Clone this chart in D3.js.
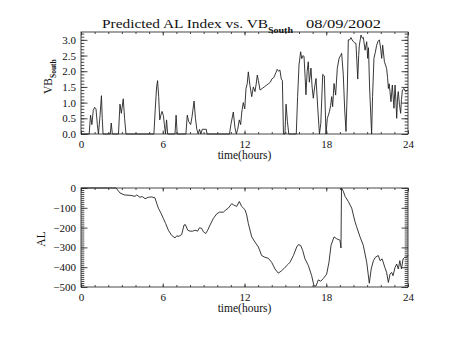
<!DOCTYPE html>
<html>
<head>
<meta charset="utf-8">
<script src="https://cdn.jsdelivr.net/npm/d3@7"></script>
<style>
  body { margin: 0; background: #fff; }
  svg text { font-family: "Liberation Serif", "Times New Roman", serif; fill: #111; }
</style>
</head>
<body>
<svg id="chart" width="453" height="340"></svg>
<script>
// Hour ticks shared by both panels
const hourTicks = [0, 6, 12, 18, 24];
const vbTicks = [0, 0.5, 1, 1.5, 2, 2.5, 3];
const alTicks = [0, -100, -200, -300, -400, -500];

// Southward IMF component times solar-wind speed: [hour, value]
const vbSouth = [
  [0, 0], [0.6, 0], [0.7, 0.6], [0.8, 0.3], [0.9, 0.75], [1.0, 0.85], [1.1, 0.8], [1.2, 0.3], [1.28, 0],
  [1.4, 0.6], [1.5, 1.22], [1.56, 0.5], [1.62, 0],
  [2.15, 0], [2.22, 0.35], [2.3, 0],
  [2.75, 0], [2.86, 0.95], [2.96, 0.66], [3.1, 1.12], [3.2, 0.5], [3.3, 0],
  [5.35, 0], [5.45, 0.8], [5.55, 1.5], [5.62, 1.7], [5.7, 1.2], [5.78, 0.45], [5.86, 0.6], [5.95, 0.72],
  [6.05, 0.58], [6.12, 0.3], [6.2, 0], [6.28, 0.45], [6.36, 0],
  [6.9, 0], [6.98, 0.6], [7.06, 0],
  [7.7, 0], [7.8, 0.6], [7.9, 0.4], [8.05, 0.3], [8.15, 0.55], [8.3, 1.05], [8.4, 0.5], [8.5, 0.15],
  [8.6, 0], [8.7, 0.15], [8.8, 0], [8.9, 0.15], [9.2, 0.15], [9.25, 0],
  [10.9, 0], [11.0, 0.3], [11.18, 0.7], [11.3, 0.2], [11.4, 0], [11.5, 0.15], [11.62, 0.45], [11.72, 0.3],
  [11.8, 0.7], [11.91, 1.0], [12.02, 0.8], [12.11, 1.45], [12.2, 1.6], [12.28, 1.98], [12.4, 1.55],
  [12.53, 1.19], [12.65, 1.5], [12.77, 1.35], [12.86, 1.6], [12.94, 1.88], [13.02, 1.7], [13.14, 1.4],
  [13.3, 1.45], [13.45, 1.5], [13.6, 1.55], [13.75, 1.6], [13.9, 1.65], [14.0, 1.75], [14.15, 1.8],
  [14.3, 1.95], [14.4, 2.06], [14.5, 2.0], [14.6, 2.04], [14.7, 1.75], [14.78, 1.7], [14.86, 0],
  [14.97, 0], [15.05, 0.95], [15.15, 0.4], [15.25, 0],
  [15.8, 0], [15.9, 1.2], [16.0, 2.2], [16.12, 2.62], [16.2, 2.4], [16.3, 2.5], [16.37, 2.46], [16.45, 1.8],
  [16.51, 1.25], [16.6, 2.0], [16.68, 2.3], [16.76, 1.65], [16.88, 2.1], [16.96, 1.5], [17.05, 1.14],
  [17.15, 1.5], [17.25, 1.77], [17.38, 0.8], [17.5, 0],
  [17.6, 0.34], [17.74, 1.9], [17.86, 1.85], [17.98, 0],
  [18.08, 0.5], [18.16, 0.6], [18.23, 0.71], [18.32, 0.9], [18.4, 1.19], [18.47, 0.87], [18.57, 1.61],
  [18.69, 1.24], [18.81, 2.09], [18.94, 2.41], [19.05, 2.5], [19.13, 2.57], [19.25, 1.9], [19.35, 0.8], [19.45, 0.08],
  [19.55, 1.5], [19.62, 3.0], [19.72, 3.0], [19.82, 3.07], [19.9, 3.0], [19.99, 2.94], [20.1, 2.9], [20.18, 2.89],
  [20.25, 2.3], [20.31, 1.75], [20.38, 2.5], [20.43, 2.83], [20.55, 3.15], [20.65, 3.05], [20.72, 3.08],
  [20.85, 2.67], [20.97, 2.94], [21.04, 2.41], [21.1, 2.75], [21.18, 1.5], [21.33, 0],
  [21.4, 1.2], [21.5, 2.41], [21.6, 2.6], [21.7, 2.83], [21.8, 2.95], [21.9, 3.0], [22.0, 2.7], [22.07, 2.41],
  [22.14, 2.83], [22.27, 2.3], [22.35, 2.2], [22.43, 2.09], [22.5, 1.8], [22.56, 1.45], [22.62, 1.6],
  [22.68, 1.35], [22.75, 1.03], [22.85, 1.56], [22.97, 0.82], [23.05, 1.56], [23.12, 1.0], [23.17, 0.5],
  [23.24, 1.2], [23.29, 1.35], [23.37, 0.95], [23.46, 0.66], [23.52, 1.1], [23.59, 1.4], [23.71, 1.45],
  [23.83, 1.35], [23.96, 1.4]
];

// Predicted AL index (nT): [hour, value]
const alIndex = [
  [0, 0], [2.57, 0], [2.86, -25], [3.18, -35], [3.6, -37], [3.96, -42], [4.09, -35], [4.33, -47], [4.5, -43],
  [4.7, -54], [4.94, -47], [5.19, -45], [5.43, -50], [5.55, -76], [5.68, -102], [5.87, -127], [6.04, -153],
  [6.21, -179], [6.41, -213], [6.65, -239], [6.9, -252], [7.02, -242], [7.19, -244], [7.39, -235],
  [7.56, -187], [7.66, -185], [7.83, -213], [8.0, -218], [8.2, -218], [8.37, -213], [8.56, -218],
  [8.69, -201], [8.86, -204], [8.98, -221], [9.15, -230], [9.3, -213], [9.47, -187], [9.72, -153],
  [9.96, -131], [10.16, -122], [10.45, -122], [10.64, -110], [10.81, -102], [11.06, -79], [11.18, -85],
  [11.43, -93], [11.62, -68], [11.79, -93], [12.04, -110], [12.16, -136], [12.28, -179], [12.53, -247],
  [12.77, -273], [13.02, -298], [13.26, -341], [13.5, -350], [13.75, -355], [13.99, -375], [14.24, -409],
  [14.48, -430], [14.73, -418], [14.97, -401], [15.22, -384], [15.34, -375], [15.59, -341], [15.83, -298],
  [15.95, -286], [16.12, -290], [16.27, -315], [16.44, -358], [16.69, -392], [16.93, -443], [17.1, -495],
  [17.25, -495], [17.42, -464], [17.59, -471], [17.79, -457], [18.03, -435], [18.2, -375], [18.35, -290],
  [18.57, -247], [18.76, -256], [19.01, -264], [19.08, -303], [19.12, 0], [19.25, -16], [19.38, -42],
  [19.62, -68], [19.87, -102], [20.11, -170], [20.23, -196], [20.48, -247], [20.72, -290], [20.97, -375],
  [21.16, -481], [21.3, -409], [21.46, -367], [21.6, -350], [21.82, -341], [21.95, -367], [22.1, -358],
  [22.3, -401], [22.43, -426], [22.56, -477], [22.68, -435], [22.8, -426], [22.9, -443], [23.05, -401],
  [23.17, -384], [23.29, -409], [23.4, -367], [23.52, -409], [23.64, -358], [23.76, -350], [23.9, -350],
  [24, -340]
];

const svg = d3.select("#chart");
const axisColor = "#333";
const lineColor = "#222";

const x = d3.scaleLinear().domain([0, 24]).range([81, 408]);
const hourMinor = d3.range(0, 24.001, 1);

function drawPanel(y, data, majorTicks, minorTicks, fmt) {
  const [y0, y1] = y.range();
  const g = svg.append("g");

  const styleAxis = sel => {
    sel.select(".domain").remove();
    sel.selectAll(".tick line").attr("stroke", axisColor).attr("stroke-width", 0.9);
    sel.selectAll(".tick text").style("font-size", "11px").attr("fill", "#111");
  };

  // bottom axis with hour labels, ticks pointing inward
  g.append("g").attr("transform", `translate(0,${y0})`)
    .call(d3.axisBottom(x).tickValues(hourTicks).tickSizeInner(-3.5).tickSizeOuter(0).tickPadding(6)
      .tickFormat(d3.format("d")))
    .call(styleAxis);
  g.append("g").attr("transform", `translate(0,${y0})`)
    .call(d3.axisBottom(x).tickValues(hourMinor).tickSizeInner(-2).tickSizeOuter(0).tickFormat(""))
    .call(styleAxis);
  // top axis, ticks only
  g.append("g").attr("transform", `translate(0,${y1})`)
    .call(d3.axisTop(x).tickValues(hourTicks).tickSizeInner(-3.5).tickSizeOuter(0).tickFormat(""))
    .call(styleAxis);
  g.append("g").attr("transform", `translate(0,${y1})`)
    .call(d3.axisTop(x).tickValues(hourMinor).tickSizeInner(-2).tickSizeOuter(0).tickFormat(""))
    .call(styleAxis);

  // left axis with value labels
  g.append("g").attr("transform", `translate(${x.range()[0]},0)`)
    .call(d3.axisLeft(y).tickValues(majorTicks).tickSizeInner(-6.5).tickSizeOuter(0).tickPadding(5).tickFormat(fmt))
    .call(styleAxis);
  g.append("g").attr("transform", `translate(${x.range()[0]},0)`)
    .call(d3.axisLeft(y).tickValues(minorTicks).tickSizeInner(-3.3).tickSizeOuter(0).tickFormat(""))
    .call(styleAxis);
  // right axis, ticks only
  g.append("g").attr("transform", `translate(${x.range()[1]},0)`)
    .call(d3.axisRight(y).tickValues(majorTicks).tickSizeInner(-6.5).tickSizeOuter(0).tickFormat(""))
    .call(styleAxis);
  g.append("g").attr("transform", `translate(${x.range()[1]},0)`)
    .call(d3.axisRight(y).tickValues(minorTicks).tickSizeInner(-3.3).tickSizeOuter(0).tickFormat(""))
    .call(styleAxis);

  // plot box
  g.append("rect")
    .attr("x", x.range()[0]).attr("y", y1)
    .attr("width", x.range()[1] - x.range()[0]).attr("height", y0 - y1)
    .attr("fill", "none").attr("stroke", axisColor).attr("stroke-width", 0.9);

  // data trace
  g.append("path").datum(data)
    .attr("fill", "none").attr("stroke", lineColor).attr("stroke-width", 0.9)
    .attr("stroke-linejoin", "round")
    .attr("d", d3.line().x(d => x(d[0])).y(d => y(d[1])));

  // x-axis title
  g.append("text")
    .attr("x", (x.range()[0] + x.range()[1]) / 2).attr("y", y0 + 25)
    .attr("text-anchor", "middle").style("font-size", "11.5px")
    .text("time(hours)");
}

// Upper panel: VB_South
const yVB = d3.scaleLinear().domain([0, 3.25]).range([134, 32]);
drawPanel(yVB, vbSouth, vbTicks, d3.range(0, 3.25, 0.1), d3.format(".1f"));

// Lower panel: AL
const yAL = d3.scaleLinear().domain([-500, 0]).range([287, 188]);
drawPanel(yAL, alIndex, alTicks, d3.range(-500, 0.1, 10), d3.format("d"));

// y-axis titles
const vbTitle = svg.append("text")
  .attr("transform", "translate(52,94) rotate(-90)")
  .style("font-size", "11.5px");
vbTitle.append("tspan").text("VB");
vbTitle.append("tspan").attr("dy", 4).style("font-size", "7.5px").style("font-weight", "bold").text("South");

svg.append("text")
  .attr("transform", "translate(45,239) rotate(-90)")
  .attr("text-anchor", "middle")
  .style("font-size", "11.5px")
  .text("AL");

// chart title
svg.append("text").attr("x", 102).attr("y", 28)
  .attr("textLength", 166).attr("lengthAdjust", "spacingAndGlyphs")
  .style("font-size", "13px")
  .text("Predicted AL Index vs. VB");
svg.append("text").attr("x", 268).attr("y", 32.5)
  .attr("textLength", 25).attr("lengthAdjust", "spacingAndGlyphs")
  .style("font-size", "7.5px").style("font-weight", "bold")
  .text("South");
svg.append("text").attr("x", 306).attr("y", 28)
  .attr("textLength", 75).attr("lengthAdjust", "spacingAndGlyphs")
  .style("font-size", "13px")
  .text("08/09/2002");
</script>
</body>
</html>
